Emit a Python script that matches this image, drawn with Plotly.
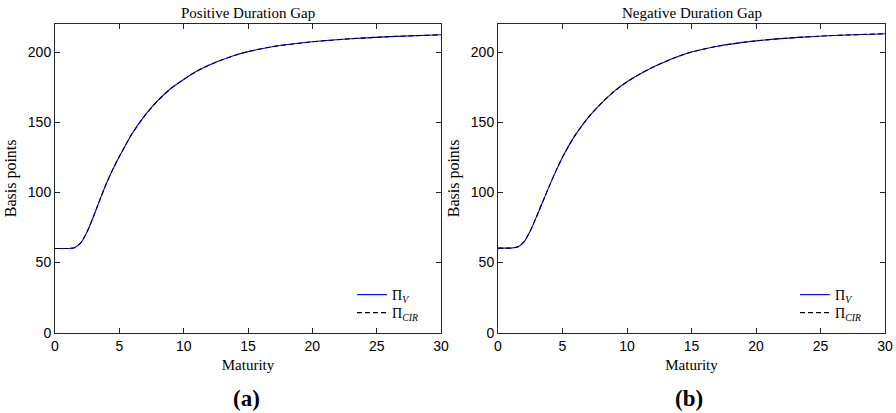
import plotly.graph_objects as go

# ---- data ----
maturity = [0, 1, 1.5, 2, 2.5, 3, 3.5, 4, 4.5, 5, 5.5, 6, 7, 8, 9, 10, 11, 12, 13, 14, 15,
            17, 20, 23, 26, 30]

pos_pi_v = [60, 60, 60.5, 64, 72, 83, 95, 106.5, 116.5, 125.5, 134, 142, 155, 165.5, 174,
            180.5, 186.3, 190.8, 194.5, 197.8, 200.3, 204, 207.3, 209.5, 211, 212.3]
pos_pi_cir = [60, 60, 60.5, 64, 72, 83, 95, 106.5, 116.5, 125.5, 134, 142, 155, 165.5, 174,
              180.5, 186.3, 190.8, 194.5, 197.8, 200.3, 204, 207.3, 209.5, 211, 212.3]

neg_pi_v = [60.3, 60.3, 61, 64.5, 72.5, 83, 94, 105, 115.5, 125, 133.5, 141, 153.5, 163.5, 172,
            178.8, 184.3, 189.2, 193.3, 197, 200, 204.2, 208, 210.3, 211.8, 213]
neg_pi_cir = [60.3, 60.3, 61, 64.5, 72.5, 83, 94, 105, 115.5, 125, 133.5, 141, 153.5, 163.5, 172,
              178.8, 184.3, 189.2, 193.3, 197, 200, 204.2, 208, 210.3, 211.8, 213]

x_ticks = [0, 5, 10, 15, 20, 25, 30]
y_ticks = [0, 50, 100, 150, 200]

titles = ["Positive Duration Gap", "Negative Duration Gap"]
panel_labels = ["(a)", "(b)"]
series_names = ["Π<sub><i>V</i></sub>", "Π<sub><i>CIR</i></sub>"]

W, H = 896, 413
SERIF = "Liberation Serif, Times New Roman, serif"
SANS = "Liberation Sans, Arial, sans-serif"
AX = "#262626"


def fx(px):
    return px / W


def fy(py):
    return (H - py) / H


fig = go.Figure()

panels = [
    (pos_pi_v, pos_pi_cir, "x", "y", ("legend", "legend2")),
    (neg_pi_v, neg_pi_cir, "x2", "y2", ("legend3", "legend4")),
]
for pv, pc, xa, ya, lg in panels:
    fig.add_trace(go.Scatter(x=maturity, y=pv, mode="lines", xaxis=xa, yaxis=ya,
                             line=dict(color="#0000ff", width=1.1, shape="spline", smoothing=0.6),
                             name=series_names[0], legend=lg[0]))
    fig.add_trace(go.Scatter(x=maturity, y=pc, mode="lines", xaxis=xa, yaxis=ya,
                             line=dict(color="#000000", width=1.1, dash="5px,3px",
                                       shape="spline", smoothing=0.6),
                             name=series_names[1], legend=lg[1]))

xdom = [[fx(55), fx(441)], [fx(498), fx(885)]]
ydom = [fy(332.7), fy(24)]

axis_common = dict(showline=True, linecolor=AX, linewidth=1, mirror="ticks",
                   ticks="inside", ticklen=5, tickcolor=AX, tickwidth=1,
                   showgrid=False, zeroline=False, automargin=False,
                   tickfont=dict(family=SANS, size=14, color="#000000"))

xt_font = dict(family=SERIF, size=15, color="#000")
yt_font = dict(family=SERIF, size=16, color="#000")
leg_font = dict(family=SERIF, size=14, color="#000")


def leg(px, py):
    return dict(x=fx(px), y=fy(py), xanchor="left", yanchor="middle",
                bgcolor="rgba(0,0,0,0)", borderwidth=0, font=leg_font,
                tracegroupgap=0, itemwidth=30)


layout = dict(
    width=W, height=H, margin=dict(l=0, r=0, t=0, b=0, autoexpand=False),
    paper_bgcolor="white", plot_bgcolor="white", showlegend=True,
    xaxis=dict(domain=xdom[0], range=[0, 30], tickvals=x_ticks, anchor="y",
               title=dict(text="Maturity", font=xt_font, standoff=6), **axis_common),
    yaxis=dict(domain=ydom, range=[0, 220], tickvals=y_ticks, anchor="x",
               title=dict(text="Basis points", font=yt_font, standoff=7), **axis_common),
    xaxis2=dict(domain=xdom[1], range=[0, 30], tickvals=x_ticks, anchor="y2",
                title=dict(text="Maturity", font=xt_font, standoff=6), **axis_common),
    yaxis2=dict(domain=ydom, range=[0, 220], tickvals=y_ticks, anchor="x2",
                title=dict(text="Basis points", font=yt_font, standoff=7), **axis_common),
    legend=leg(352, 295),
    legend2=leg(352, 313),
    legend3=leg(795, 295),
    legend4=leg(795, 313),
)
fig.update_layout(**layout)

annotations = []
for i in range(2):
    cx = (xdom[i][0] + xdom[i][1]) / 2
    annotations.append(dict(text=titles[i], x=cx, y=fy(13), xref="paper", yref="paper",
                            showarrow=False, xanchor="center", yanchor="middle",
                            font=dict(family=SERIF, size=15, color="#000")))
    annotations.append(dict(text="<b>" + panel_labels[i] + "</b>", x=cx - 2 / W, y=fy(398),
                            xref="paper", yref="paper", showarrow=False,
                            xanchor="center", yanchor="middle",
                            font=dict(family=SERIF, size=23, color="#000")))
fig.update_layout(annotations=annotations)

fig.write_html("out.html", config={"displayModeBar": False},
               post_script="document.body.style.margin='0px';")
